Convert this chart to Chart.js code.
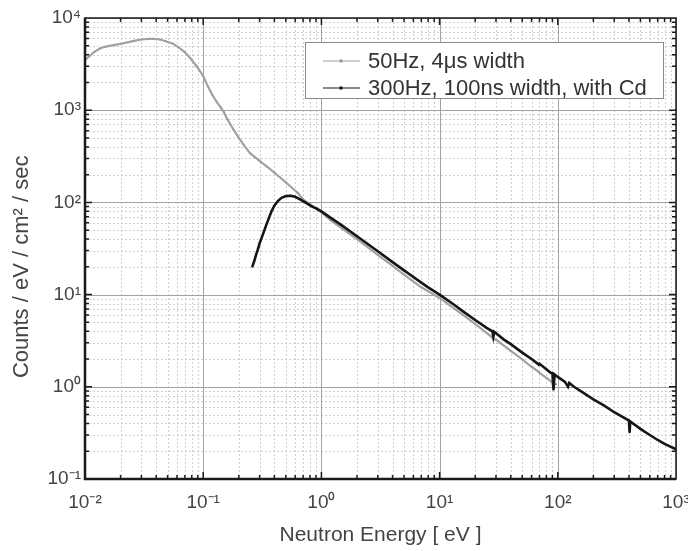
<!DOCTYPE html>
<html><head><meta charset="utf-8">
<script src="https://cdn.jsdelivr.net/npm/chart.js@4/dist/chart.umd.min.js"></script>
<style>html,body{margin:0;padding:0;background:#fff}</style>
</head><body>
<canvas id="c" width="688" height="551"></canvas>
<script>
const seriesLabels = ['50Hz, 4\u03bcs width', '300Hz, 100ns width, with Cd'];

const energy50 = [0.010,0.011,0.012,0.0135,0.015,0.017,0.020,0.023,0.026,0.030,0.034,0.038,0.043,0.048,0.055,0.062,0.070,0.078,0.088,
  0.100,0.110,0.120,0.130,0.140,0.150,0.160,0.170,0.180,0.20,0.22,0.25,0.30,0.35,0.40,0.45,0.50,0.56,0.63,0.70,0.80,0.90,
  1.0,1.2,1.5,2,3,4,5,7,10,15,20,27,28.5,30,40,50,60,69,70,80,90,91.5,93,97];
const counts50 = [3500,3900,4300,4700,4900,5050,5250,5450,5650,5850,5950,5950,5850,5600,5300,4800,4250,3650,3000,
  2350,1800,1450,1230,1080,950,800,700,620,500,421,340,282,242,210,185,165,145,127,108,96,86,
  78,64,52,40,27,20.5,16.5,12.0,9.2,6.3,4.8,3.55,3.3,3.25,2.45,1.98,1.65,1.45,1.42,1.25,1.12,1.0,1.09,1.06];

const energy300 = [0.26,0.27,0.28,0.29,0.30,0.32,0.34,0.36,0.38,0.40,0.43,0.46,0.50,0.55,0.60,0.66,0.73,0.82,0.92,
  1.0,1.2,1.5,2.0,2.5,3,4,5,6,7,8,10,13,16,20,25,28,28.5,29,35,40,50,60,69,70,80,87,90,92,94,100,115,122,125,137,160,200,245,300,400,405,410,500,600,700,800,1000];
const counts300 = [20,23,27,31,36,45,56,68,81,92,104,112,117,118,115,108,100,91,85,
  80,68,56,43,35,29.5,22.5,18.3,15.5,13.5,12.0,10.0,7.9,6.5,5.3,4.35,4.0,3.5,3.95,3.25,2.9,2.35,2.0,1.74,1.78,1.55,1.42,1.40,0.93,1.36,1.28,1.13,1.0,1.1,1.0,0.88,0.73,0.63,0.53,0.43,0.32,0.42,0.35,0.30,0.265,0.24,0.21];

const xTickValues = [0.01, 0.1, 1, 10, 100, 1000];
const xTickLabels = ['10\u207b\u00b2','10\u207b\u00b9','10\u2070','10\u00b9','10\u00b2','10\u00b3'];
const yTickValues = [0.1, 1, 10, 100, 1000, 10000];
const yTickLabels = ['10\u207b\u00b9','10\u2070','10\u00b9','10\u00b2','10\u00b3','10\u2074'];
const xTitle = 'Neutron Energy [ eV ]';
const yTitle = 'Counts / eV / cm\u00b2 / sec';

const FONT = '"Liberation Sans", Arial, sans-serif';

function minorValues(vals) {
  const out = [];
  for (let i = 0; i < vals.length - 1; i++) {
    for (let m = 2; m <= 9; m++) out.push(vals[i] * m);
  }
  return out;
}

const gridFrame = {
  id: 'gridFrame',
  beforeDatasetsDraw(chart) {
    const {ctx, chartArea: a, scales: {x, y}} = chart;
    ctx.save();
    ctx.lineWidth = 1;
    ctx.strokeStyle = '#cfcfcf';
    ctx.setLineDash([2, 2]);
    ctx.beginPath();
    minorValues(xTickValues).forEach(v => { const p = Math.round(x.getPixelForValue(v)) + 0.5; ctx.moveTo(p, a.top); ctx.lineTo(p, a.bottom); });
    minorValues(yTickValues).forEach(v => { const p = Math.round(y.getPixelForValue(v)) + 0.5; ctx.moveTo(a.left, p); ctx.lineTo(a.right, p); });
    ctx.stroke();
    ctx.setLineDash([]);
    ctx.strokeStyle = '#a3a3a3';
    ctx.beginPath();
    xTickValues.forEach(v => { const p = Math.round(x.getPixelForValue(v)) + 0.5; ctx.moveTo(p, a.top); ctx.lineTo(p, a.bottom); });
    yTickValues.forEach(v => { const p = Math.round(y.getPixelForValue(v)) + 0.5; ctx.moveTo(a.left, p); ctx.lineTo(a.right, p); });
    ctx.stroke();
    ctx.restore();
  },
  afterDatasetsDraw(chart) {
    const {ctx, chartArea: a, scales: {x, y}} = chart;
    ctx.save();
    ctx.strokeStyle = '#1a1a1a';
    ctx.lineWidth = 1.5;
    ctx.beginPath();
    const tick = (vals, len) => {
      vals.forEach(v => {
        const px = x.getPixelForValue(v);
        if (px > a.left + 1 && px < a.right - 1) {
          ctx.moveTo(px, a.bottom); ctx.lineTo(px, a.bottom - len);
          ctx.moveTo(px, a.top); ctx.lineTo(px, a.top + len);
        }
      });
    };
    const ytick = (vals, len) => {
      vals.forEach(v => {
        const py = y.getPixelForValue(v);
        if (py > a.top + 1 && py < a.bottom - 1) {
          ctx.moveTo(a.left, py); ctx.lineTo(a.left + len, py);
          ctx.moveTo(a.right, py); ctx.lineTo(a.right - len, py);
        }
      });
    };
    tick(xTickValues, 7); tick(minorValues(xTickValues), 4);
    ytick(yTickValues, 7); ytick(minorValues(yTickValues), 4);
    ctx.stroke();
    ctx.lineWidth = 1.5;
    ctx.strokeRect(a.left, a.top, a.right - a.left, a.bottom - a.top);
    ctx.lineWidth = 2.5;
    ctx.beginPath();
    ctx.moveTo(a.left, a.top); ctx.lineTo(a.left, a.bottom); ctx.lineTo(a.right, a.bottom);
    ctx.stroke();
    ctx.restore();
  },
  afterDraw(chart) {
    const {ctx, chartArea: a} = chart;
    const left = a.left + 220, right = a.right - 13, top = a.top + 24, bottom = a.top + 80;
    ctx.save();
    ctx.fillStyle = '#ffffff';
    ctx.fillRect(left, top, right - left, bottom - top);
    ctx.strokeStyle = '#8a8a8a';
    ctx.lineWidth = 1;
    ctx.strokeRect(left + 0.5, top + 0.5, right - left, bottom - top);
    const rows = [top + 19, top + 46];
    chart.data.datasets.forEach((ds, i) => {
      const ry = rows[i];
      ctx.strokeStyle = ds.borderColor;
      ctx.lineWidth = 1.2;
      ctx.beginPath(); ctx.moveTo(left + 18, ry); ctx.lineTo(left + 55, ry); ctx.stroke();
      ctx.fillStyle = ds.pointBackgroundColor;
      ctx.beginPath(); ctx.arc(left + 36, ry, 1.8, 0, Math.PI * 2); ctx.fill();
      ctx.fillStyle = '#333333';
      ctx.font = '22px ' + FONT;
      ctx.textBaseline = 'middle';
      ctx.textAlign = 'left';
      ctx.fillText(ds.label, left + 63, ry + 1);
    });
    ctx.restore();
  }
};

const toPts = (xs, ys) => xs.map((v, i) => ({x: v, y: ys[i]}));

new Chart(document.getElementById('c'), {
  type: 'scatter',
  data: {
    datasets: [
      {label: seriesLabels[0], data: toPts(energy50, counts50), showLine: true, order: 1,
       borderColor: '#a2a2a2', backgroundColor: '#9a9a9a', pointBackgroundColor: '#9a9a9a', pointBorderColor: '#9a9a9a',
       borderWidth: 2.2, pointRadius: 0.9, pointBorderWidth: 0, pointHoverRadius: 0.9, tension: 0},
      {label: seriesLabels[1], data: toPts(energy300, counts300), showLine: true, order: 0,
       borderColor: '#161616', backgroundColor: '#161616', pointBackgroundColor: '#161616', pointBorderColor: '#161616',
       borderWidth: 2.6, pointRadius: 0.9, pointBorderWidth: 0, pointHoverRadius: 0.9, tension: 0}
    ]
  },
  options: {
    responsive: false,
    animation: false,
    layout: {padding: {top: 18, right: 12, left: 0, bottom: 0}},
    plugins: {legend: {display: false}, tooltip: {enabled: false}},
    scales: {
      x: {
        type: 'logarithmic', min: 0.01, max: 1000,
        grid: {display: false, drawTicks: false},
        border: {display: false},
        afterBuildTicks: s => { s.ticks = xTickValues.map(v => ({value: v})); },
        afterFit: s => { s.height = 72; s.paddingLeft = 0; s.paddingRight = 0; },
        ticks: {
          autoSkip: false, maxRotation: 0, padding: 12, color: '#444',
          font: {family: FONT, size: 19},
          callback: (v, i) => xTickLabels[i]
        },
        title: {display: true, text: xTitle, color: '#444', font: {family: FONT, size: 21}, padding: {top: 0, bottom: 3}}
      },
      y: {
        type: 'logarithmic', min: 0.1, max: 10000,
        grid: {display: false, drawTicks: false},
        border: {display: false},
        afterBuildTicks: s => { s.ticks = yTickValues.map(v => ({value: v})); },
        afterFit: s => { s.width = 85; s.paddingTop = 0; s.paddingBottom = 0; },
        ticks: {
          autoSkip: false, padding: 4, color: '#444',
          font: {family: FONT, size: 19},
          callback: (v, i) => yTickLabels[i]
        },
        title: {display: true, text: yTitle + '      ', color: '#444', font: {family: FONT, size: 22}, padding: {top: 9, bottom: 0}}
      }
    }
  },
  plugins: [gridFrame]
});
</script>
</body></html>
